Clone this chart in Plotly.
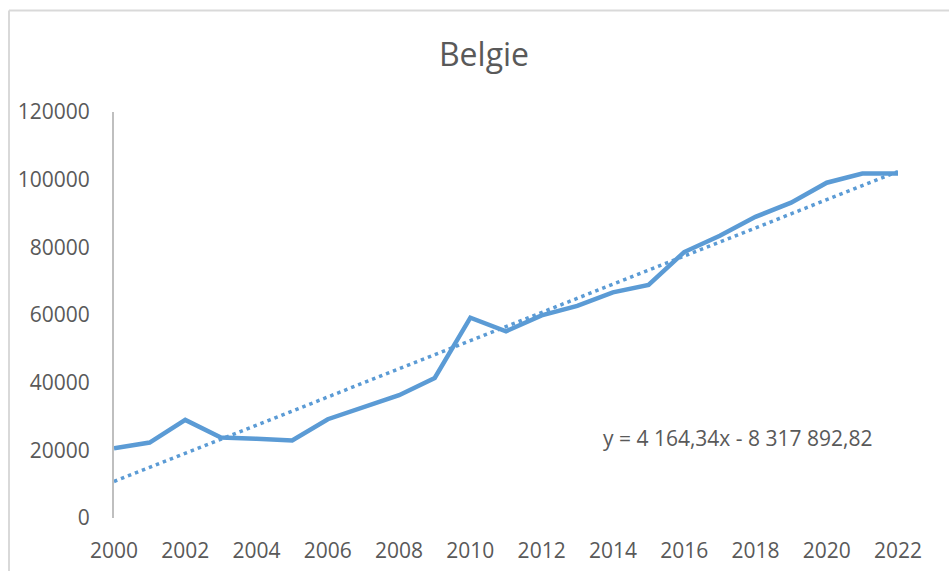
import plotly.graph_objects as go

years = list(range(2000, 2023))
values = [20600, 22300, 29000, 23800, 23400, 22900, 29200, 32800, 36300, 41400,
          59200, 55200, 59900, 62700, 66700, 68900, 78600, 83400, 89000, 93200,
          99100, 101800, 101800]

slope = 4164.34
intercept = -8317892.82
trend_x = [years[0], years[-1]]
trend_y = [slope * x + intercept for x in trend_x]
equation = "y = 4 164,34x - 8 317 892,82"

x_ticks = list(range(2000, 2023, 2))
y_ticks = list(range(0, 120001, 20000))

blue = "#5B9BD5"
text_col = "#595959"
font = "Open Sans"

fig = go.Figure()
fig.add_trace(go.Scatter(x=years, y=values, mode="lines",
                         line=dict(color=blue, width=4.5), showlegend=False))
fig.add_trace(go.Scatter(x=trend_x, y=trend_y, mode="lines",
                         line=dict(color=blue, width=3.5, dash="3.5px,4px"), showlegend=False))

W, H = 949, 571
PX_L, PX_R, PX_T, PX_B = 114, 898, 112, 518
L, T, R, B = PX_L, PX_T, W - PX_R, H - PX_B
pw, ph = PX_R - PX_L, PX_B - PX_T

def px2paper_x(px):
    return (px - PX_L) / pw

def px2paper_y(py):
    return (PX_B - py) / ph

border = "#D9D9D9"
fig.add_shape(type="line", xref="paper", yref="paper",
              x0=px2paper_x(9), x1=px2paper_x(9),
              y0=px2paper_y(600), y1=px2paper_y(10.5),
              line=dict(color=border, width=2))
fig.add_shape(type="line", xref="paper", yref="paper",
              x0=px2paper_x(9), x1=px2paper_x(980),
              y0=px2paper_y(10.5), y1=px2paper_y(10.5),
              line=dict(color=border, width=2))

fig.add_annotation(text=equation, xref="paper", yref="paper",
                   x=px2paper_x(737), y=px2paper_y(438),
                   xanchor="center", yanchor="middle", showarrow=False,
                   font=dict(family=font, size=21, color=text_col))

fig.update_layout(
    width=W, height=H,
    margin=dict(l=L, r=R, t=T, b=B),
    paper_bgcolor="white", plot_bgcolor="white",
    title=dict(text="Belgie", x=484 / W, xanchor="center",
               y=1 - 55 / H, yanchor="middle",
               font=dict(family=font, size=32, color=text_col)),
    xaxis=dict(range=[2000, 2022], tickvals=x_ticks, ticktext=[str(t) for t in x_ticks],
               showgrid=False, zeroline=False, showline=False, automargin=False,
               ticks="outside", ticklen=14, tickcolor="rgba(0,0,0,0)",
               tickfont=dict(family=font, size=21, color=text_col)),
    yaxis=dict(range=[0, 120000], tickvals=y_ticks, ticktext=[str(t) for t in y_ticks],
               showgrid=False, zeroline=False, showline=True, linecolor="#BFBFBF", linewidth=2,
               automargin=False,
               ticks="outside", ticklen=18, tickcolor="rgba(0,0,0,0)",
               tickfont=dict(family=font, size=21, color=text_col)),
)

fig.write_html("out.html", config={"displayModeBar": False},
               post_script="document.body.style.margin='0';document.body.style.overflow='hidden';")
